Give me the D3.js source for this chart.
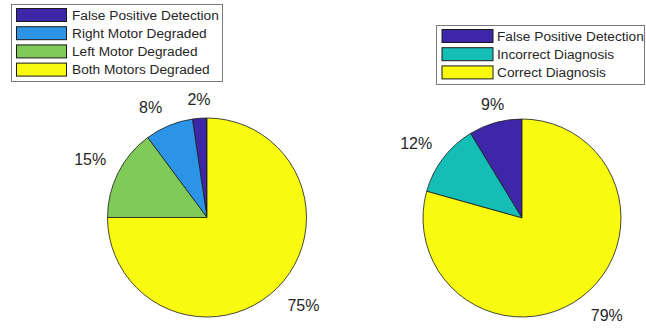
<!DOCTYPE html>
<html>
<head>
<meta charset="utf-8">
<script src="https://cdn.jsdelivr.net/npm/d3@7"></script>
<style>
  html, body { margin: 0; padding: 0; background: #fff; }
  svg { display: block; font-family: "Liberation Sans", Arial, sans-serif; }
</style>
</head>
<body>
<svg id="chart" width="646" height="329"></svg>
<script>
// Fault-detection outcomes (counts); percentages are derived from them.
const faultCategories = ["False Positive Detection", "Right Motor Degraded", "Left Motor Degraded", "Both Motors Degraded"];
const faultCounts = [3, 10, 19, 96];
const faultColors = ["#3e26a8", "#2b94e7", "#80ca59", "#f8fa0f"];

// Diagnosis outcomes (counts).
const diagCategories = ["False Positive Detection", "Incorrect Diagnosis", "Correct Diagnosis"];
const diagCounts = [8, 11, 73];
const diagColors = ["#3e26a8", "#14bdb6", "#f8fa0f"];

const svg = d3.select("#chart");

function drawPie(cfg) {
  const { cx, cy, r, values, colors } = cfg;
  const total = d3.sum(values);
  // Start at 12 o'clock and run counter-clockwise.
  const pie = d3.pie().sort(null).startAngle(0).endAngle(-2 * Math.PI);
  const arc = d3.arc().innerRadius(0).outerRadius(r);
  const arcs = pie(values);
  const g = svg.append("g").attr("transform", `translate(${cx},${cy})`);

  g.selectAll("path").data(arcs).join("path")
    .attr("d", arc)
    .attr("fill", (d, i) => colors[i])
    .attr("stroke", "#1a1a1a")
    .attr("stroke-width", 0.8)
    .attr("stroke-linejoin", "round");

  const lr = r * 1.1;
  g.selectAll("text").data(arcs).join("text")
    .each(function (d) {
      const a = (d.startAngle + d.endAngle) / 2;
      const s = Math.sin(a), c = Math.cos(a);
      let x = lr * s, y = -lr * c;
      let anchor = "middle";
      if (Math.abs(s) >= 0.3) {
        anchor = s < 0 ? "end" : "start";
        x += s < 0 ? -3 : 3;
      }
      y += c > 0 ? -3 : 16.5;
      d3.select(this)
        .attr("x", x).attr("y", y)
        .attr("text-anchor", anchor);
    })
    .attr("font-size", 16)
    .attr("fill", "#262626")
    .text(d => Math.round(100 * d.value / total) + "%");
}

function drawLegend(cfg) {
  const { x0, y0, x1, y1, swX, swW, swH, rowTop, rowStep, textX, labels, colors } = cfg;
  const g = svg.append("g");
  g.append("rect")
    .attr("x", x0 + 0.5).attr("y", y0 + 0.5)
    .attr("width", x1 - x0).attr("height", y1 - y0)
    .attr("fill", "#fff").attr("stroke", "#7a7a7a").attr("stroke-width", 1);
  const rows = g.selectAll("g.row").data(labels).join("g").attr("class", "row");
  rows.append("rect")
    .attr("x", swX + 0.5)
    .attr("y", (d, i) => rowTop + i * rowStep + 0.5)
    .attr("width", swW).attr("height", swH)
    .attr("fill", (d, i) => colors[i])
    .attr("stroke", "#1a1a1a").attr("stroke-width", 1);
  rows.append("text")
    .attr("x", textX)
    .attr("y", (d, i) => rowTop + i * rowStep + swH / 2 + 5)
    .attr("font-size", 13.7)
    .attr("fill", "#262626")
    .text(d => d);
}

drawPie({ cx: 207, cy: 217.5, r: 99.5, values: faultCounts, colors: faultColors });
drawPie({ cx: 522, cy: 218, r: 99, values: diagCounts, colors: diagColors });

drawLegend({
  x0: 11, y0: 4, x1: 222, y1: 81,
  swX: 16, swW: 50, swH: 13, rowTop: 8, rowStep: 18.2,
  textX: 72, labels: faultCategories, colors: faultColors
});
drawLegend({
  x0: 436, y0: 25, x1: 644, y1: 84,
  swX: 441.5, swW: 51, swH: 13, rowTop: 29, rowStep: 18.2,
  textX: 497, labels: diagCategories, colors: diagColors
});
</script>
</body>
</html>
